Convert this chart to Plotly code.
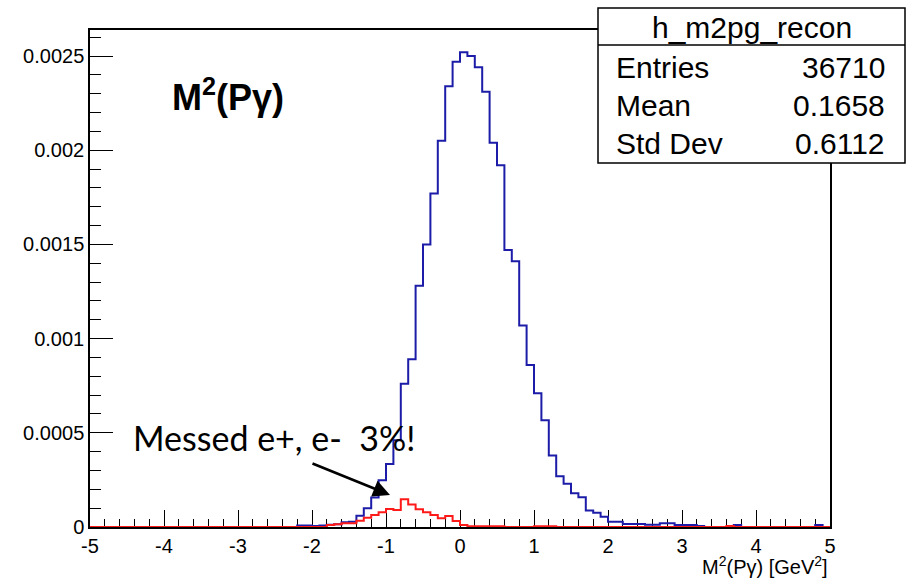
import plotly.graph_objects as go
import numpy as np

# ---------------- data ----------------
x_min, x_max, n_bins = -5.0, 5.0, 100
y_max = 0.002638

# histogram contents, bins of 0.1 starting at -5.0 (leading 28 empty bins, then from -2.2)
blue_lead_zeros = 28
blue_vals = [8e-6, 8e-6, 5e-6, 8e-6, 12e-6, 15e-6, 25e-6, 28e-6, 60e-6, 100e-6,
             156e-6, 248e-6, 334e-6, 460e-6, 760e-6, 890e-6, 1280e-6, 1500e-6, 1770e-6, 2050e-6,
             2340e-6, 2470e-6, 2520e-6, 2500e-6, 2440e-6, 2310e-6, 2040e-6, 1920e-6, 1470e-6, 1410e-6,
             1070e-6, 860e-6, 710e-6, 566e-6, 380e-6, 270e-6, 230e-6, 179e-6, 158e-6, 87e-6,
             76e-6, 55e-6, 28e-6, 28e-6, 16e-6, 16e-6, 16e-6, 12e-6, 12e-6, 20e-6,
             20e-6, 10e-6, 10e-6, 10e-6, 5e-6, 0, 0, 0, 0, 10e-6,
             0, 0, 0, 0, 0, 0, 0, 0, 0, 0,
             10e-6, 0]
red_lead_zeros = 28
red_vals = [0, 0, 0, 0, 10e-6, 15e-6, 20e-6, 20e-6, 33e-6, 49e-6,
            64e-6, 78e-6, 96e-6, 90e-6, 147e-6, 120e-6, 94e-6, 78e-6, 64e-6, 46e-6,
            58e-6, 32e-6, 11e-6, 4e-6, 4e-6, 4e-6, 4e-6, 4e-6, 0, 0,
            0, 0, 4e-6, 4e-6, 4e-6, 0, 0, 0, 0, 0,
            0, 0, 0, 0, 0, 0, 0, 0, 0, 0,
            0, 0, 0, 0, 0, 0, 0, 0, 5e-6, 0,
            0, 0, 0, 0, 0, 0, 0, 0, 0, 0,
            0, 0]

x_tick_vals = [-5, -4, -3, -2, -1, 0, 1, 2, 3, 4, 5]
x_tick_text = ["-5", "-4", "-3", "-2", "-1", "0", "1", "2", "3", "4", "5"]
y_tick_vals = [0, 0.0005, 0.001, 0.0015, 0.002, 0.0025]
y_tick_text = ["0", "0.0005", "0.001", "0.0015", "0.002", "0.0025"]

stats_title = "h_m2pg_recon"
stats_names = ["Entries", "Mean", "Std Dev"]
stats_values = ["36710", "0.1658", "0.6112"]

# ---------------- figure ----------------
edges = np.linspace(x_min, x_max, n_bins + 1)
blue = [0.0] * blue_lead_zeros + blue_vals
red = [0.0] * red_lead_zeros + red_vals

W, H = 906, 578
L, R, T, B = 90, 830, 30, 527


def px(x):
    return (x - L) / (R - L)


def py(y):
    return (B - y) / (B - T)


fig = go.Figure()
fig.add_trace(go.Scatter(x=edges, y=blue + [blue[-1]], mode="lines", line_shape="hv",
                         line=dict(color="#1c1ca8", width=2), hoverinfo="skip"))
fig.add_trace(go.Scatter(x=edges, y=red + [red[-1]], mode="lines", line_shape="hv",
                         line=dict(color="#ff1a1a", width=2), hoverinfo="skip"))

tickfont = dict(family="Liberation Sans", size=20, color="black")
fig.update_xaxes(range=[x_min, x_max], showgrid=False, zeroline=False,
                 showline=True, linecolor="black", linewidth=1.5, mirror=True,
                 ticks="inside", ticklen=17, tickwidth=1.2, tickcolor="black",
                 tickvals=x_tick_vals, ticktext=x_tick_text, tickfont=tickfont,
                 minor=dict(ticks="inside", ticklen=8, dtick=0.2, tickwidth=1.2, tickcolor="black"),
                 layer="below traces")
fig.update_yaxes(range=[0, y_max], showgrid=False, zeroline=False,
                 showline=True, linecolor="black", linewidth=1.5, mirror=True,
                 ticks="inside", ticklen=23, tickwidth=1.2, tickcolor="black",
                 tickvals=y_tick_vals, ticktext=y_tick_text, tickfont=tickfont,
                 minor=dict(ticks="inside", ticklen=11, dtick=0.0001, tickwidth=1.2, tickcolor="black"),
                 layer="below traces")

shapes = [
    dict(type="rect", xref="paper", yref="paper", x0=px(598), x1=px(905), y0=py(163), y1=py(8),
         fillcolor="white", line=dict(color="black", width=1.5), layer="above"),
    dict(type="line", xref="paper", yref="paper", x0=px(598), x1=px(905), y0=py(45), y1=py(45),
         line=dict(color="black", width=1.5), layer="above"),
]

sfont = dict(family="Liberation Sans", size=30, color="black")
ann = [dict(xref="paper", yref="paper", x=px(751.5), y=py(27), text=stats_title, showarrow=False,
            xanchor="center", yanchor="middle", font=sfont)]
for i, (nm, vl) in enumerate(zip(stats_names, stats_values)):
    yy = py(67 + i * 38)
    ann.append(dict(xref="paper", yref="paper", x=px(614), y=yy, text=nm, showarrow=False,
                    xanchor="left", yanchor="middle", font=sfont))
    ann.append(dict(xref="paper", yref="paper", x=px(887), y=yy, text=vl, showarrow=False,
                    xanchor="right", yanchor="middle", font=sfont))

ann.append(dict(xref="paper", yref="paper", x=px(170), y=py(95), text="<b>M<sup>2</sup>(Pγ)</b>",
                showarrow=False, xanchor="left", yanchor="middle",
                font=dict(family="Liberation Sans", size=36, color="black")))
ann.append(dict(xref="paper", yref="paper", x=px(830), y=py(565),
                text="M<sup>2</sup>(Pγ) [GeV<sup>2</sup>]", showarrow=False,
                xanchor="right", yanchor="middle",
                font=dict(family="Liberation Sans", size=20, color="black")))
ann.append(dict(xref="paper", yref="paper", x=px(131), y=py(437),
                text="Messed e+, e-&nbsp; 3%!", showarrow=False,
                xanchor="left", yanchor="middle",
                font=dict(family="Lato", size=34, color="black")))
ann.append(dict(xref="x", yref="y", x=-0.946, y=0.00017, text="", showarrow=True,
                ax=-79, ay=-32, arrowhead=2, arrowsize=1.3, arrowwidth=2.6,
                arrowcolor="black", standoff=0))

fig.update_layout(width=W, height=H, margin=dict(l=L, r=W - R, t=T, b=H - B),
                  paper_bgcolor="white", plot_bgcolor="white", showlegend=False,
                  shapes=shapes, annotations=ann)

fig.write_html("out.html")
